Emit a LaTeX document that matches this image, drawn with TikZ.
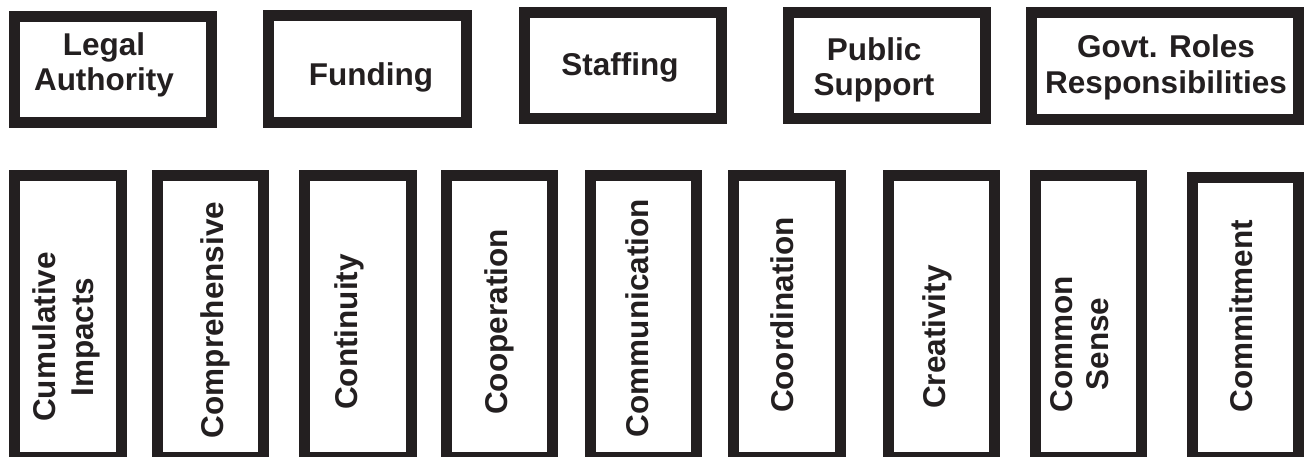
\documentclass[tikz,border=0pt]{standalone}
\usepackage{fontspec}
\setmainfont{Liberation Sans}
\definecolor{ink}{RGB}{35,31,32}
\begin{document}
\begin{tikzpicture}[x=1pt,y=-1pt,
  frame/.style={draw=ink, line width=11pt, rectangle, inner sep=0pt, fill=white},
  label/.style={text=ink, inner sep=0pt, anchor=base, align=center,
    font=\fontsize{31.5}{35}\selectfont\bfseries},
  upright/.style={label, rotate=90}]
\useasboundingbox (0,0) rectangle (1304,456);
\clip (0,0) rectangle (1304,456);
\fill[white] (0,0) rectangle (1304,456);

% upper row of frames
\node[frame, minimum width=197pt, minimum height=106pt] (legal)   at (113,69.5) {};
\node[frame, minimum width=198pt, minimum height=107pt] (fund)    at (367.5,69) {};
\node[frame, minimum width=197pt, minimum height=106pt] (staff)   at (623,65.5) {};
\node[frame, minimum width=197pt, minimum height=106pt] (public)  at (887,65.5) {};
\node[frame, minimum width=267pt, minimum height=107pt] (govt)    at (1165,66) {};

% multi-line labels sit on the baseline of their last line
\node[label] (legalT)  at (104,90)   {Legal\\Authority};
\node[label] (fundT)   at (371,85)   {Funding};
\node[label] (staffT)  at (620,75)   {Staffing};
\node[label] (publicT) at (874,95)   {Public\\Support};
\node[label, font=\fontsize{31.5}{36}\selectfont\bfseries] (govtT) at (1166,93) {Govt. Roles\\Responsibilities};

% lower row of tall frames (their bottom edge runs past the page)
\node[frame, minimum width=106.5pt, minimum height=282pt] (cum)    at (67.75,316.5) {};
\node[frame, minimum width=106pt,   minimum height=282pt] (comp)   at (210,316.5) {};
\node[frame, minimum width=106.5pt, minimum height=282pt] (cont)   at (357.75,316.5) {};
\node[frame, minimum width=105.5pt, minimum height=282pt] (coop)   at (499.25,316.5) {};
\node[frame, minimum width=106pt,   minimum height=282pt] (comm)   at (643.5,316.5) {};
\node[frame, minimum width=106.5pt, minimum height=282pt] (coord)  at (786.75,316.5) {};
\node[frame, minimum width=106.5pt, minimum height=282pt] (creat)  at (941.25,316.5) {};
\node[frame, minimum width=106.5pt, minimum height=282pt] (sense)  at (1088.25,316.5) {};
\node[frame, minimum width=106pt,   minimum height=280pt] (commit) at (1245,317.5) {};

\node[upright, font=\fontsize{31.5}{38}\selectfont\bfseries] (cumT) at (93,337) {Cumulative\\Impacts};
\node[upright] (compT)   at (223,320)  {Comprehensive};
\node[upright] (contT)   at (357,332)  {Continuity};
\node[upright] (coopT)   at (507,322)  {Cooperation};
\node[upright] (commT)   at (648,318)  {Communication};
\node[upright] (coordT)  at (793,315)  {Coordination};
\node[upright] (creatT)  at (945,337)  {Creativity};
\node[upright, font=\fontsize{31.5}{36}\selectfont\bfseries] (senseT) at (1108,344) {Common\\Sense};
\node[upright] (commitT) at (1252,316) {Commitment};
\end{tikzpicture}
\end{document}
